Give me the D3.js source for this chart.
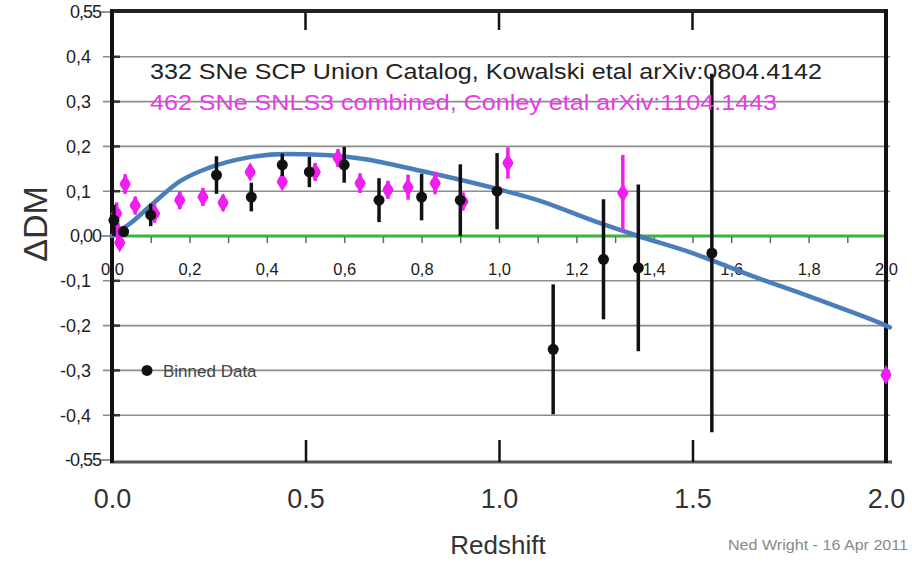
<!DOCTYPE html>
<html><head><meta charset="utf-8">
<script src="https://cdn.jsdelivr.net/npm/d3@7"></script>
<style>html,body{margin:0;padding:0;background:#fff;}svg{display:block;}</style>
</head><body>
<svg id="c" width="912" height="563"></svg>
<script>
// Union binned data (black)
const unionZ   = [0.005, 0.03, 0.10, 0.27, 0.36, 0.44, 0.51, 0.60, 0.69, 0.80, 0.90, 0.995, 1.14, 1.27, 1.36, 1.55];
const unionDM  = [0.035, 0.01, 0.047, 0.136, 0.087, 0.159, 0.143, 0.159, 0.080, 0.087, 0.080, 0.100, -0.253, -0.052, -0.071, -0.038];
const unionErr = [0.035, 0.012, 0.025, 0.042, 0.032, 0.025, 0.034, 0.040, 0.049, 0.052, 0.080, 0.085, 0.145, 0.134, 0.186, 0.400];
// SNLS3 combined (magenta)
const snlsZ   = [0.012, 0.015, 0.02, 0.034, 0.06, 0.11, 0.175, 0.235, 0.287, 0.357, 0.44, 0.525, 0.584, 0.641, 0.713, 0.765, 0.835, 0.907, 1.023, 1.32, 2.0];
const snlsDM  = [0.05, 0.01, -0.015, 0.116, 0.068, 0.05, 0.08, 0.087, 0.074, 0.143, 0.121, 0.143, 0.174, 0.118, 0.103, 0.109, 0.118, 0.077, 0.163, 0.096, -0.31];
const snlsErr = [0.025, 0.02, 0.015, 0.022, 0.02, 0.02, 0.02, 0.02, 0.018, 0.015, 0.015, 0.02, 0.02, 0.022, 0.02, 0.028, 0.025, 0.02, 0.035, 0.085, 0.005];
// model curve (blue)
const modelZ  = [0, 0.05, 0.1, 0.175, 0.25, 0.35, 0.45, 0.55, 0.65, 0.8, 1.0, 1.1, 1.25, 1.36, 1.5, 1.65, 1.8, 1.9, 2.0, 2.01];
const modelDM = [0, 0.03, 0.068, 0.122, 0.152, 0.175, 0.183, 0.181, 0.172, 0.145, 0.104, 0.08, 0.032, 0.0, -0.038, -0.088, -0.134, -0.166, -0.2, -0.204];
// ticks
const yTicks = [0.4, 0.3, 0.2, 0.1, -0.1, -0.2, -0.3, -0.4];
const yEdgeTicks = [0.5, 0, -0.5];
const yEdgeLabels = ["0,55", "0,00", "-0,55"];
const innerXTicks = [0,0.1,0.2,0.3,0.4,0.5,0.6,0.7,0.8,0.9,1.0,1.1,1.2,1.3,1.4,1.5,1.6,1.7,1.8,1.9,2.0];
const innerXLabels = [0,0.2,0.4,0.6,0.8,1.0,1.2,1.4,1.6,1.8,2.0];
const outerXTicks = [0, 0.5, 1.0, 1.5, 2.0];
const legend1 = "332 SNe SCP Union Catalog, Kowalski etal arXiv:0804.4142";
const legend2 = "462 SNe SNLS3 combined, Conley etal arXiv:1104.1443";

const svg = d3.select("#c");
const x = d3.scaleLinear().domain([0, 2]).range([112, 886]);
const y = d3.scaleLinear().domain([-0.5, 0.5]).range([460, 12]);
const comma = v => d3.format(".1f")(v).replace(".", ",").replace("\u2212", "-");
const F = "'Liberation Sans', Arial, sans-serif";
const FN = "'Liberation Sans Narrow', 'Liberation Sans', Arial, sans-serif";

// gridlines
svg.append("g").selectAll("line").data(yTicks).join("line")
  .attr("x1", 103).attr("x2", 890).attr("y1", d => y(d)).attr("y2", d => y(d))
  .attr("stroke", "#8c8c8c").attr("stroke-width", 1.6);
svg.append("g").selectAll("line").data(yTicks).join("line")
  .attr("x1", 110).attr("x2", 120).attr("y1", d => y(d)).attr("y2", d => y(d))
  .attr("stroke", "#333").attr("stroke-width", 2.5);

// y labels
svg.append("g").selectAll("text").data(yTicks).join("text")
  .attr("x", 91).attr("y", d => y(d)).attr("dy", "0.36em").attr("text-anchor", "end")
  .attr("font-family", F).attr("font-size", 18).attr("fill", "#222").text(d => comma(d));
// edge labels (overprinted look)
const edge = svg.append("g");
edge.selectAll("text").data(yEdgeTicks).join("text")
  .attr("x", 101).attr("y", d => y(d)).attr("dy", "0.36em").attr("text-anchor", "end")
  .attr("font-family", F).attr("font-size", 18).attr("fill", "#222").attr("letter-spacing", -1)
  .text((d, i) => yEdgeLabels[i]);
edge.selectAll("line").data(yEdgeTicks).join("line")
  .attr("x1", 101).attr("x2", 112).attr("y1", d => y(d)).attr("y2", d => y(d))
  .attr("stroke", "#777").attr("stroke-width", 1.6);

// zero line (green)
svg.append("line").attr("x1", x(0)).attr("x2", x(2)).attr("y1", y(0)).attr("y2", y(0))
  .attr("stroke", "#3cb43c").attr("stroke-width", 3);

// inner x axis along zero line
const innerAxis = d3.axisBottom(x).tickValues(innerXTicks).tickSize(6).tickPadding(20)
  .tickFormat(d => innerXLabels.some(v => Math.abs(v - d) < 1e-9) ? comma(d) : "");
const ia = svg.append("g").attr("transform", `translate(0,${y(0) + 1})`).call(innerAxis);
ia.select(".domain").remove();
ia.selectAll(".tick line").attr("stroke", "#666").attr("stroke-width", 1.5);
ia.selectAll(".tick text").attr("font-family", F).attr("font-size", 16.5).attr("fill", "#1a1a1a");

// frame
svg.append("line").attr("x1", x(0) - 2).attr("x2", x(2) + 2).attr("y1", 11).attr("y2", 11)
  .attr("stroke", "#222").attr("stroke-width", 4);
svg.append("line").attr("x1", x(0) - 2).attr("x2", x(2) + 6).attr("y1", 462).attr("y2", 462)
  .attr("stroke", "#555").attr("stroke-width", 3);
svg.append("line").attr("x1", x(0)).attr("x2", x(0)).attr("y1", 10).attr("y2", 463)
  .attr("stroke", "#111").attr("stroke-width", 4);
svg.append("line").attr("x1", x(2)).attr("x2", x(2)).attr("y1", 10).attr("y2", 463)
  .attr("stroke", "#111").attr("stroke-width", 4);
// top ticks
svg.append("g").selectAll("line").data(outerXTicks.slice(1, 4)).join("line")
  .attr("x1", d => x(d)).attr("x2", d => x(d)).attr("y1", 12).attr("y2", 30)
  .attr("stroke", "#111").attr("stroke-width", 2.5);

// outer x axis
const outerAxis = d3.axisBottom(x).tickValues(outerXTicks).tickSizeInner(-22).tickSizeOuter(0)
  .tickPadding(27).tickFormat(d3.format(".1f"));
const oa = svg.append("g").attr("transform", "translate(0,462)").call(outerAxis);
oa.select(".domain").remove();
oa.selectAll(".tick line").attr("stroke", "#111").attr("stroke-width", 2.5)
  .filter(d => d === 0 || d === 2).remove();
oa.selectAll(".tick text").attr("font-family", FN).attr("font-size", 27).attr("fill", "#333");

// model curve
const line = d3.line().x(d => x(d[0])).y(d => y(d[1])).curve(d3.curveMonotoneX);
svg.append("path").datum(modelZ.map((z, i) => [z, modelDM[i]]))
  .attr("d", line).attr("fill", "none").attr("stroke", "#4a7ebb").attr("stroke-width", 4.5)
  .attr("stroke-linecap", "round");

// SNLS3 points
const snls = snlsZ.map((z, i) => ({z, v: snlsDM[i], e: snlsErr[i]}));
const mg = svg.append("g");
mg.selectAll("line").data(snls).join("line")
  .attr("x1", d => x(d.z)).attr("x2", d => x(d.z))
  .attr("y1", d => y(d.v + d.e)).attr("y2", d => y(d.v - d.e))
  .attr("stroke", "#f01ef0").attr("stroke-width", 3.5);
mg.selectAll("path").data(snls).join("path")
  .attr("transform", d => `translate(${x(d.z)},${y(d.v)})`)
  .attr("d", d3.symbol(d3.symbolDiamond, 110))
  .attr("fill", "#f01ef0");
mg.selectAll("circle").data(snls).join("circle")
  .attr("cx", d => x(d.z)).attr("cy", d => y(d.v)).attr("r", 5).attr("fill", "#f01ef0");

// Union points
const uni = unionZ.map((z, i) => ({z, v: unionDM[i], e: unionErr[i]}));
const bg = svg.append("g");
bg.selectAll("line").data(uni).join("line")
  .attr("x1", d => x(d.z)).attr("x2", d => x(d.z))
  .attr("y1", d => y(d.v + d.e)).attr("y2", d => y(d.v - d.e))
  .attr("stroke", "#111").attr("stroke-width", 3.5);
bg.selectAll("circle").data(uni).join("circle")
  .attr("cx", d => x(d.z)).attr("cy", d => y(d.v)).attr("r", 5.5).attr("fill", "#111");

// legend texts
svg.append("text").attr("x", 150).attr("y", 79).attr("font-family", F).attr("font-size", 21.5)
  .attr("fill", "#222").attr("textLength", 672).attr("lengthAdjust", "spacingAndGlyphs").text(legend1);
svg.append("text").attr("x", 150).attr("y", 110).attr("font-family", F).attr("font-size", 21.5)
  .attr("fill", "#e63ce6").attr("textLength", 627).attr("lengthAdjust", "spacingAndGlyphs").text(legend2);

// binned data legend
svg.append("circle").attr("cx", 147).attr("cy", y(-0.3)).attr("r", 5.5).attr("fill", "#111");
svg.append("text").attr("x", 163).attr("y", y(-0.3)).attr("dy", "0.36em").attr("font-family", F)
  .attr("font-size", 17).attr("fill", "#444").text("Binned Data");

// axis titles
svg.append("text").attr("transform", "translate(47,224) rotate(-90)").attr("text-anchor", "middle")
  .attr("font-family", F).attr("font-size", 34).attr("fill", "#333").text("ΔDM");
svg.append("text").attr("x", 498).attr("y", 554).attr("text-anchor", "middle")
  .attr("font-family", FN).attr("font-size", 26).attr("fill", "#333").text("Redshift");
svg.append("text").attr("x", 728).attr("y", 550)
  .attr("font-family", FN).attr("font-size", 15).attr("fill", "#888")
  .attr("textLength", 180).attr("lengthAdjust", "spacingAndGlyphs").text("Ned Wright - 16 Apr 2011");
</script>
</body></html>
